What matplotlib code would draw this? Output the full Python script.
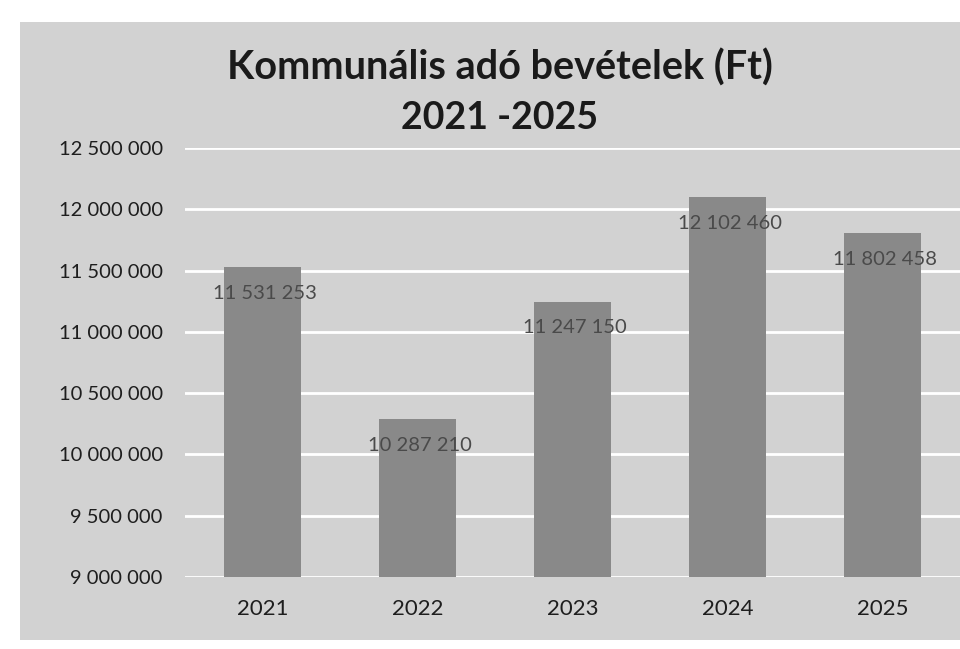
import matplotlib

matplotlib.use("Agg")
import matplotlib.pyplot as plt
from matplotlib.patches import Rectangle
from matplotlib.ticker import FuncFormatter

years = ["2021", "2022", "2023", "2024", "2025"]
revenue = [11531253, 10287210, 11247150, 12102460, 11802458]
y_ticks = [9000000, 9500000, 10000000, 10500000, 11000000, 11500000, 12000000, 12500000]


def fmt(v):
    return f"{int(v):,}".replace(",", " ")


def main() -> None:
    plt.rcParams["font.family"] = ["Lato", "DejaVu Sans"]
    fig = plt.figure(figsize=(9.6, 6.49), dpi=100, facecolor="white")

    # gray panel of the scanned chart
    fig.patches.append(Rectangle((20 / 960, 9 / 649), 1.0, 618 / 649,
                                 transform=fig.transFigure, facecolor="#d2d2d2",
                                 edgecolor="none", zorder=-5))

    ax = fig.add_axes([185 / 960, 1 - 577 / 649, 775 / 960, (577 - 148) / 649])
    ax.set_facecolor("none")

    x = range(len(years))
    bars = ax.bar(x, revenue, width=0.5, color="#898989", zorder=2)
    for b, v in zip(bars, revenue):
        ax.annotate(fmt(v), (b.get_x() + b.get_width() / 2, v), xytext=(2, -19),
                    textcoords="offset points", ha="center", va="center",
                    fontsize=14.5, color="#4a4a4a", zorder=3)

    ax.set_xlim(-0.5, 4.5)
    ax.set_ylim(9000000, 12500000)
    ax.set_yticks(y_ticks)
    ax.yaxis.set_major_formatter(FuncFormatter(lambda v, p: fmt(v)))
    ax.set_xticks(list(x))
    ax.set_xticklabels(years)
    ax.grid(axis="y", color="white", lw=2, zorder=1)
    ax.set_axisbelow(True)
    for s in ax.spines.values():
        s.set_visible(False)
    ax.tick_params(axis="y", length=0, pad=16, labelsize=14.5, labelcolor="#1e1e1e")
    ax.tick_params(axis="x", length=0, pad=16, labelsize=16, labelcolor="#1e1e1e")

    fig.text(500 / 960, 1 - 68 / 649, "Kommunális adó bevételek (Ft)", ha="center",
             va="center", fontsize=28.5, fontweight="bold", color="#1a1a1a")
    fig.text(500 / 960, 1 - 118 / 649, "2021 -2025", ha="center", va="center",
             fontsize=27, fontweight="bold", color="#1a1a1a")

    fig.savefig("out.png", dpi=100, facecolor="white")
    plt.close(fig)


if __name__ == "__main__":
    main()
